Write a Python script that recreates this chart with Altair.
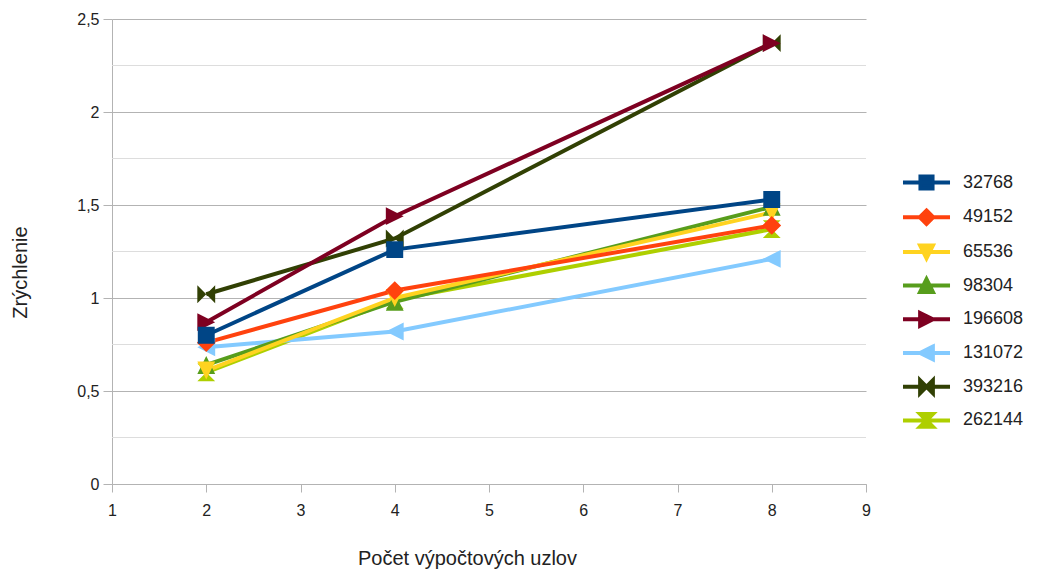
import altair as alt
import pandas as pd

# Speed-up per number of compute nodes, one series per problem size
series = ["32768", "49152", "65536", "98304", "196608", "131072", "393216", "262144"]
nodes = [2, 4, 8]
v_32768 = [0.80, 1.26, 1.53]
v_49152 = [0.76, 1.04, 1.39]
v_65536 = [0.61, 1.00, 1.46]
v_98304 = [0.64, 0.98, 1.49]
v_196608 = [0.87, 1.44, 2.37]
v_131072 = [0.735, 0.82, 1.21]
v_393216 = [1.02, 1.32, 2.37]
v_262144 = [0.60, 0.99, 1.37]
values = [v_32768, v_49152, v_65536, v_98304, v_196608, v_131072, v_393216, v_262144]

colors = ["#004586", "#ff420e", "#ffd320", "#579d1c", "#7e0021", "#83caff", "#314004", "#aecf00"]

# Marker paths; the horizontal stroke is zero-area, so it only shows where stroked (legend)
m = 0.72
t = 0.76
line_part = "M-2.8,0H2.8 "
shapes = [
    line_part + f"M-{m},-{m}H{m}V{m}H-{m}Z",
    line_part + "M0,-0.8L0.8,0L0,0.8L-0.8,0Z",
    line_part + f"M-{t},-{t}H{t}L0,{t}Z",
    line_part + f"M0,-{t}L{t},{t}H-{t}Z",
    line_part + f"M-{t},-{t}L{t},0L-{t},{t}Z",
    line_part + f"M{t},-{t}L-{t},0L{t},{t}Z",
    line_part + f"M-{t},-{t}L{t},{t}V-{t}L-{t},{t}Z",
    line_part + f"M-{t},-{t}H{t}L-{t},{t}H{t}Z",
]

minor_grid = [0.25, 0.75, 1.25, 1.75, 2.25]
y_ticks = [0, 0.5, 1.0, 1.5, 2.0, 2.5]
x_ticks = [1, 2, 3, 4, 5, 6, 7, 8, 9]

rows = []
for idx in reversed(range(len(series))):
    for n, v in zip(nodes, values[idx]):
        rows.append({"series": series[idx], "nodes": n, "speedup": v})
df = pd.DataFrame(rows)

FONT = "Liberation Sans"
TXT = "#222222"
GRID = "#b3b3b3"

x_scale = alt.Scale(domain=[1, 9], nice=False)
y_scale = alt.Scale(domain=[0, 2.5], nice=False)

x_axis = alt.Axis(
    values=x_ticks, format="d", grid=False, domainColor=GRID, tickColor=GRID, tickSize=8,
    labelFlush=False, labelPadding=10, labelFontSize=16, labelFont=FONT, labelColor=TXT,
    title="Počet výpočtových uzlov", titleFont=FONT, titleFontSize=20,
    titleFontWeight="normal", titleColor=TXT, titleX=355, titleY=74,
    titleBaseline="middle", titleAnchor="start", titleAlign="center",
)
y_axis = alt.Axis(
    values=y_ticks, gridColor=GRID, domainColor=GRID, tickColor=GRID, tickSize=9,
    labelPadding=4, labelFontSize=16, labelFont=FONT, labelColor=TXT, labelFlush=False,
    labelExpr="replace(format(datum.value, '~g'), '.', ',')",
    title="Zrýchlenie", titleFont=FONT, titleFontSize=20, titleFontWeight="normal",
    titleColor=TXT, titleX=-92, titleY=253, titleAngle=-90, titleBaseline="middle",
    titleAlign="center", titleAnchor="start",
)

minor = alt.Chart(pd.DataFrame({"y": minor_grid})).mark_rule(
    color="#dddddd", strokeWidth=1
).encode(y=alt.Y("y:Q", scale=y_scale, axis=y_axis))

base = alt.Chart(df)

# line colours come from a sorted (data-derived) domain so this scale keeps no legend of its own
lines = base.mark_line(strokeWidth=4).encode(
    x=alt.X("nodes:Q", scale=x_scale, axis=x_axis),
    y=alt.Y("speedup:Q", scale=y_scale, axis=y_axis),
    color=alt.Color("series:N", sort=series, scale=alt.Scale(range=colors), legend=None),
    detail="series:N",
)

def series_legend():
    return alt.Legend(
        title=None, orient="none", legendX=804, legendY=153, padding=0,
        symbolSize=282, symbolStrokeWidth=4, symbolOpacity=1,
        labelFontSize=18, labelFont=FONT, labelColor=TXT, labelOffset=26, rowPadding=4.7,
    )

points = base.mark_point(filled=True, opacity=1, strokeWidth=0).encode(
    x=alt.X("nodes:Q", scale=x_scale, axis=x_axis),
    y=alt.Y("speedup:Q", scale=y_scale, axis=y_axis),
    fill=alt.Fill("series:N", scale=alt.Scale(domain=series, range=colors), legend=series_legend()),
    stroke=alt.Stroke("series:N", scale=alt.Scale(domain=series, range=colors), legend=series_legend()),
    shape=alt.Shape("series:N", scale=alt.Scale(domain=series, range=shapes), legend=series_legend()),
    size=alt.value(552),
)

chart = alt.layer(minor, lines, points).properties(
    width=754, height=465,
    padding={"left": 112, "top": 19, "right": 178, "bottom": 90},
    autosize=alt.AutoSizeParams(type="none"),
    background="white",
).configure_view(stroke=None)

chart.save("out.html", embed_options={"renderer": "svg", "actions": False})
